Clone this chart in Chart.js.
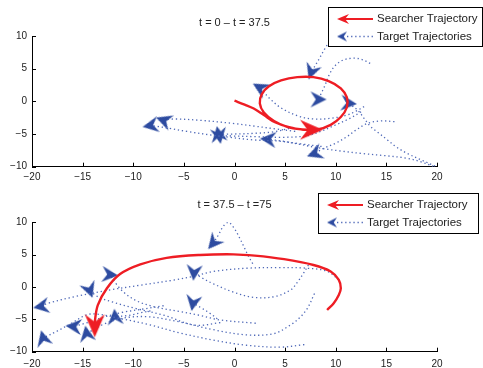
<!DOCTYPE html>
<html>
<head>
<meta charset="utf-8">
<script src="https://cdn.jsdelivr.net/npm/chart.js@4.4.1/dist/chart.umd.min.js"></script>
<style>
html, body { margin: 0; padding: 0; background: #fff; }
canvas { display: block; }
</style>
</head>
<body>
<canvas id="topChart" width="483" height="184"></canvas>
<canvas id="botChart" width="483" height="184"></canvas>
<script>
// axis ticks and texts
const xTicks = [-20, -15, -10, -5, 0, 5, 10, 15, 20];
const yTicks = [-10, -5, 0, 5, 10];
const titles = ["t = 0 \u2013 t = 37.5", "t = 37.5 \u2013 t =75"];
const legendLabels = ["Searcher Trajectory", "Target Trajectories"];

// searcher (red) trajectories, [x, y]
const searcherTop = [[0,0.1],[1,-0.5],[1.9,-1.1],[2.9,-2.1],[4,-3.2],[5.3,-3.9],[6.7,-4.3],[8.2,-4.3],[9.5,-3.6],[10.5,-2.4],[11.1,-0.9],[11.1,0.6],[10.5,2.0],[9.3,3.1],[7.8,3.7],[6.2,3.7],[4.6,3.2],[3.4,2.3],[2.7,1.1],[2.5,-0.3],[2.9,-1.7],[3.9,-3.0],[5.2,-3.9],[6.6,-4.3],[7.6,-4.35]];
const searcherBot = [[9.15,-3.55],[9.8,-2.5],[10.3,-1.24],[10.5,-0.2],[10.3,1.1],[9.5,2.4],[7.8,3.4],[4.9,4.3],[2,4.85],[-0.1,5.05],[-3.4,4.95],[-6.7,4.5],[-9.3,3.5],[-11.3,2.0],[-12.6,-0.2],[-13.5,-2.8],[-13.8,-5.4],[-13.8,-6.0]];
// heading of the searcher at the end (degrees, screen, counter-clockwise)
const searcherHead = [0, -90];

// target (blue) trajectories, t = 0 .. 37.5
const tT1 = [[9.8,10.2],[9.4,9.2],[8.9,8.0],[8.4,6.6],[7.9,5.3],[7.6,4.5]];
const tT2 = [[13.4,5.8],[12.6,6.4],[11.7,6.6],[10.7,6.3],[9.9,5.4],[9.3,3.9],[8.9,2.3],[8.5,1.0],[8.3,0.3]];
const tT3 = [[19.8,-9.9],[18.5,-9.0],[17.1,-8.0],[16.0,-7.0],[15.1,-5.9],[14.2,-4.8],[13.4,-3.8],[12.8,-2.6],[12.2,-1.4],[11.3,-0.3]];
const tT4 = [[12.8,-0.8],[12.0,-1.5],[11.1,-2.1],[9.5,-2.6],[7.8,-2.7],[6.2,-2.2],[4.6,-1.0],[3.5,0.4],[2.5,2.1]];
const tT5 = [[8.6,-6.9],[6.5,-6.5],[4.5,-6.1],[1.9,-5.9],[-0.5,-5.5],[-2.1,-5.2],[-4.7,-4.6],[-6.5,-4.1],[-7.8,-3.8],[-8.3,-3.7]];
const tT6 = [[6.0,-4.6],[4.0,-4.2],[2.0,-3.8],[0.0,-3.4],[-3.4,-2.9],[-6.0,-2.7],[-7.0,-2.9]];
const tT7 = [[5.8,-4.0],[3.9,-4.65],[1.9,-4.9],[-0.2,-5.0],[-1.6,-5.0]];
const tT8 = [[12.5,-1.6],[11.4,-2.6],[10.0,-3.6],[8.5,-4.6],[7.0,-5.3],[4.8,-5.5],[2.0,-5.4],[-0.3,-5.3],[-1.5,-5.3]];
const tT9 = [[20.0,-10.2],[18.5,-9.3],[17.0,-8.7],[14.8,-8.3],[12.7,-8.0],[10.5,-7.6],[8.6,-7.2],[6.5,-6.6],[4.8,-6.1],[3.3,-5.8]];
const tT10 = [[15.8,-3.1],[14.4,-3.0],[13.1,-3.4],[12.0,-4.4],[11.1,-5.4],[10.0,-6.4],[8.8,-7.2],[7.9,-8.0]];
const topHead = [-110, 0, -5, 150, 190, 160, 100, -80, 175, 200];

// target trajectories, t = 37.5 .. 75
const bT1 = [[1.8,3.6],[1.4,4.7],[1.0,6.0],[0.5,7.6],[0.0,9.0],[-0.6,10.0],[-1.1,9.4],[-1.6,8.0],[-2.1,6.8]];
const bT2 = [[7.3,3.4],[6.8,2.1],[6.2,0.7],[5.5,-0.5],[3.9,-1.5],[1.9,-1.6],[-0.1,-0.8],[-2.1,0.5],[-3.2,1.4],[-4.0,2.2]];
const bT3 = [[10.3,1.1],[9.2,2.4],[7.2,2.9],[4.5,3.0],[1.2,2.9],[-2.1,2.4],[-3.9,1.7],[-5.9,1.1],[-9.2,0.3],[-12.5,-0.5],[-15.8,-1.5],[-18.4,-2.5],[-19.1,-3.0]];
const bT4 = [[7.9,-1.0],[7.2,-3.3],[6.4,-4.8],[5.5,-5.9],[3.9,-7.2],[1.2,-7.4],[-2.1,-6.6],[-5.4,-5.4],[-8.5,-4.6],[-11.0,-4.8],[-13.0,-5.8],[-14.6,-7.2]];
const bT5 = [[6.9,-8.9],[4.5,-9.3],[1.2,-9.0],[-2.1,-8.2],[-5.4,-7.1],[-8.5,-5.8],[-11.5,-4.8],[-13.5,-4.2],[-14.6,-4.3],[-16.1,-5.6],[-17.5,-6.8],[-18.9,-7.9]];
const bT6 = [[2.1,-5.6],[-1.4,-5.1],[-3.4,-4.4],[-5.4,-3.8],[-7.8,-3.1],[-9.6,-2.2],[-10.8,-1.0],[-11.6,0.3],[-12.3,1.9]];
const bT7 = [[-1.4,-5.5],[-3.9,-5.9],[-6.9,-4.4],[-9.8,-3.3],[-12.1,-2.3],[-13.5,-1.5],[-14.3,-0.5]];
const bT8 = [[-1.7,-4.9],[-2.4,-4.1],[-3.2,-3.3],[-4.1,-2.5]];
const bT9 = [[-8.3,-3.7],[-9.3,-4.0],[-10.5,-4.4],[-11.8,-4.6]];
const bT10 = [[-7.0,-2.9],[-9.0,-3.4],[-11.0,-3.9],[-13.0,-4.7],[-14.5,-5.5],[-15.9,-6.1]];
const botHead = [-130, -95, 190, 100, 105, -5, -70, -100, 95, 175];

const RED = "#ee1d24";
const BLUE = "#2d4ba0";
const DOTS = "#4f69b8";

Chart.defaults.font.family = '"Liberation Sans", Arial, sans-serif';
Chart.defaults.color = "#222";

// concave arrowhead pointing right, used as point style
function makeArrow(len, wid, color) {
    const s = Math.ceil(Math.max(len, wid)) + 2;
    const c = document.createElement("canvas");
    c.width = s;
    c.height = s;
    const g = c.getContext("2d");
    const cx = s / 2, cy = s / 2;
    g.fillStyle = color;
    g.beginPath();
    g.moveTo(cx + len / 2, cy);
    g.lineTo(cx - len / 2, cy - wid / 2);
    g.lineTo(cx - len / 2 + len * 0.33, cy);
    g.lineTo(cx - len / 2, cy + wid / 2);
    g.closePath();
    g.fill();
    return c;
}

const redArrow = makeArrow(23, 20, RED);
const blueArrow = makeArrow(16, 16, BLUE);
const redArrowSmall = makeArrow(12, 10, RED);
const blueArrowSmall = makeArrow(10, 10, BLUE);

function track(arr, head, searcher) {
    const last = arr.length - 1;
    return {
        data: arr.map(p => ({ x: p[0], y: p[1] })),
        showLine: true,
        borderColor: searcher ? RED : DOTS,
        borderWidth: searcher ? 2.4 : 1.3,
        borderDash: searcher ? [] : [1.3, 2.8],
        tension: 0.35,
        pointStyle: ctx => ctx.dataIndex === last ? (searcher ? redArrow : blueArrow) : "circle",
        pointRadius: ctx => ctx.dataIndex === last ? 8 : 0,
        pointHoverRadius: 0,
        rotation: -head
    };
}

// MATLAB-like ticks pointing into the plot
const inwardTicks = {
    id: "inwardTicks",
    afterDraw(chart) {
        const { ctx, chartArea, scales } = chart;
        ctx.save();
        ctx.strokeStyle = "#000";
        ctx.lineWidth = 1;
        ctx.beginPath();
        xTicks.forEach(v => {
            const px = Math.round(scales.x.getPixelForValue(v)) + 0.5;
            ctx.moveTo(px, chartArea.bottom);
            ctx.lineTo(px, chartArea.bottom - 4);
        });
        yTicks.forEach(v => {
            const py = Math.round(scales.y.getPixelForValue(v)) + 0.5;
            ctx.moveTo(chartArea.left, py);
            ctx.lineTo(chartArea.left + 4, py);
        });
        ctx.stroke();
        ctx.restore();
    }
};

function drawRotated(ctx, img, x, y, deg) {
    ctx.save();
    ctx.translate(x, y);
    ctx.rotate(-deg * Math.PI / 180);
    ctx.drawImage(img, -img.width / 2, -img.height / 2);
    ctx.restore();
}

// boxed legend in the top right corner
const boxLegend = {
    id: "boxLegend",
    afterDraw(chart, args, o) {
        const ctx = chart.ctx;
        ctx.save();
        ctx.fillStyle = "#fff";
        ctx.fillRect(o.left, o.top, o.width, o.height);
        ctx.strokeStyle = "#000";
        ctx.lineWidth = 1;
        ctx.strokeRect(o.left + 0.5, o.top + 0.5, o.width, o.height);
        const x1 = o.left + 9, x2 = o.left + 45;
        const r1 = o.top + 12, r2 = o.top + 29.5;
        ctx.strokeStyle = RED;
        ctx.lineWidth = 2;
        ctx.beginPath();
        ctx.moveTo(x1 + 5, r1);
        ctx.lineTo(x2, r1);
        ctx.stroke();
        drawRotated(ctx, redArrowSmall, x1 + 6, r1, 180);
        ctx.strokeStyle = DOTS;
        ctx.lineWidth = 1.3;
        ctx.setLineDash([1.3, 2.8]);
        ctx.beginPath();
        ctx.moveTo(x1 + 10, r2);
        ctx.lineTo(x2, r2);
        ctx.stroke();
        ctx.setLineDash([]);
        drawRotated(ctx, blueArrowSmall, x1 + 5, r2, 180);
        ctx.fillStyle = "#222";
        ctx.font = '11.5px "Liberation Sans", Arial, sans-serif';
        ctx.textBaseline = "middle";
        ctx.textAlign = "left";
        ctx.fillText(legendLabels[0], x2 + 4, r1);
        ctx.fillText(legendLabels[1], x2 + 4, r2);
        ctx.restore();
    }
};

function makeChart(id, searcher, sHead, targets, heads, title, titlePad, xHeight, labelPad, legendBox) {
    const datasets = [track(searcher, sHead, true)];
    targets.forEach((t, i) => datasets.push(track(t, heads[i], false)));
    return new Chart(document.getElementById(id), {
        type: "scatter",
        data: { datasets },
        options: {
            responsive: false,
            animation: false,
            events: [],
            layout: { padding: { left: 0, right: 46, top: 0, bottom: 0 } },
            scales: {
                x: {
                    type: "linear",
                    min: -20,
                    max: 20,
                    afterBuildTicks: s => { s.ticks = xTicks.map(v => ({ value: v })); },
                    afterFit: s => { s.height = xHeight; },
                    ticks: {
                        font: { size: 10 },
                        color: "#222",
                        padding: labelPad,
                        maxRotation: 0,
                        callback: v => String(v).replace("-", "\u2212")
                    },
                    grid: { display: false, drawTicks: false },
                    border: { display: true, color: "#000", width: 1 }
                },
                y: {
                    type: "linear",
                    min: -10,
                    max: 10,
                    afterBuildTicks: s => { s.ticks = yTicks.map(v => ({ value: v })); },
                    afterFit: s => { s.width = 32; },
                    ticks: {
                        font: { size: 10 },
                        color: "#222",
                        padding: 5,
                        callback: v => String(v).replace("-", "\u2212")
                    },
                    grid: { display: false, drawTicks: false },
                    border: { display: true, color: "#000", width: 1 }
                }
            },
            plugins: {
                legend: { display: false },
                tooltip: { enabled: false },
                title: {
                    display: true,
                    text: title,
                    fullSize: false,
                    color: "#222",
                    font: { size: 11, weight: "normal" },
                    padding: titlePad
                },
                boxLegend: legendBox
            }
        },
        plugins: [inwardTicks, boxLegend]
    });
}

makeChart("topChart", searcherTop, searcherHead[0],
    [tT1, tT2, tT3, tT4, tT5, tT6, tT7, tT8, tT9, tT10], topHead,
    titles[0], { top: 16.4, bottom: 6.4 }, 17.3, 5,
    { left: 328, top: 7, width: 154, height: 39 });

makeChart("botChart", searcherBot, searcherHead[1],
    [bT1, bT2, bT3, bT4, bT5, bT6, bT7, bT8, bT9, bT10], botHead,
    titles[1], { top: 14.4, bottom: 10.7 }, 16.3, 7,
    { left: 318, top: 9, width: 160, height: 40 });
</script>
</body>
</html>
